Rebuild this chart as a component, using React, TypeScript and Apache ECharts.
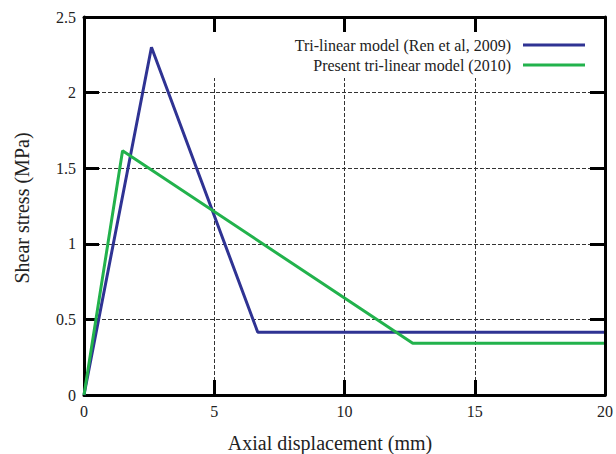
import React, { useEffect, useRef } from "react";
import * as echarts from "echarts";

const blueName = "Tri-linear model (Ren et al, 2009)";
const greenName = "Present tri-linear model (2010)";
const blueX = [0, 2.59, 6.67, 20];
const blueY = [0, 2.3, 0.415, 0.415];
const greenX = [0, 1.48, 12.62, 20];
const greenY = [0, 1.615, 0.342, 0.342];
const xTitle = "Axial displacement (mm)";
const yTitle = "Shear stress (MPa)";

const FONT = "Liberation Serif";
const BLUE = "#2f3393";
const GREEN = "#22b24c";

const pairs = (xs: number[], ys: number[]) => xs.map((x, i) => [x, ys[i]]);
const frameLine = () => ({ show: true, onZero: false, lineStyle: { color: "#000", width: 3 } });
const tk = () => ({ show: true, inside: true, length: 15, lineStyle: { color: "#000", width: 3 } });
const dashed = () => ({ show: true, lineStyle: { color: "#333", width: 1, type: "dashed" } });

export default function App() {
  const ref = useRef<HTMLDivElement>(null);
  useEffect(() => {
    if (!ref.current) return;
    const chart = echarts.init(ref.current, null, { renderer: "svg" });
    chart.setOption({
      animation: false,
      grid: { left: 84, top: 17, right: 10, bottom: 59 },
      xAxis: [
        {
          type: "value", position: "bottom", min: 0, max: 20, interval: 5,
          axisLine: frameLine(), axisTick: tk(), splitLine: dashed(),
          axisLabel: { fontFamily: FONT, fontSize: 16, color: "#222" },
        },
        {
          type: "value", position: "top", min: 0, max: 20, interval: 5, z: 10,
          axisLine: frameLine(), axisTick: tk(), splitLine: { show: false }, axisLabel: { show: false },
        },
      ],
      yAxis: [
        {
          type: "value", position: "left", min: 0, max: 2.5, interval: 0.5,
          axisLine: frameLine(), axisTick: tk(), splitLine: dashed(),
          axisLabel: { fontFamily: FONT, fontSize: 16, color: "#222" },
        },
        {
          type: "value", position: "right", min: 0, max: 2.5, interval: 0.5, z: 10,
          axisLine: frameLine(), axisTick: tk(), splitLine: { show: false }, axisLabel: { show: false },
        },
      ],
      graphic: [
        { type: "rect", z: 5, shape: { x: 208, y: 19, width: 396, height: 59 }, style: { fill: "#fff" } },
        {
          type: "text", z: 6, x: 511, y: 45,
          style: { text: blueName, fontFamily: FONT, fontSize: 16, fill: "#222", align: "right", verticalAlign: "middle" },
        },
        {
          type: "text", z: 6, x: 511, y: 65,
          style: { text: greenName, fontFamily: FONT, fontSize: 16, fill: "#222", align: "right", verticalAlign: "middle" },
        },
        { type: "line", z: 6, shape: { x1: 523, y1: 45, x2: 585, y2: 45 }, style: { stroke: BLUE, lineWidth: 3 } },
        { type: "line", z: 6, shape: { x1: 523, y1: 65, x2: 585, y2: 65 }, style: { stroke: GREEN, lineWidth: 3 } },
        {
          type: "text", x: 330, y: 443,
          style: { text: xTitle, fontFamily: FONT, fontSize: 20, fill: "#222", align: "center", verticalAlign: "middle" },
        },
        {
          type: "text", x: 22, y: 208, rotation: Math.PI / 2,
          style: { text: yTitle, fontFamily: FONT, fontSize: 20, fill: "#222", align: "center", verticalAlign: "middle" },
        },
      ],
      series: [
        {
          name: blueName, type: "line", data: pairs(blueX, blueY), showSymbol: false,
          lineStyle: { color: BLUE, width: 3 }, itemStyle: { color: BLUE },
        },
        {
          name: greenName, type: "line", data: pairs(greenX, greenY), showSymbol: false,
          lineStyle: { color: GREEN, width: 3 }, itemStyle: { color: GREEN },
        },
      ],
    });
    return () => chart.dispose();
  }, []);
  return <div ref={ref} style={{ width: 616, height: 454, position: "absolute", left: 0, top: 0 }} />;
}
